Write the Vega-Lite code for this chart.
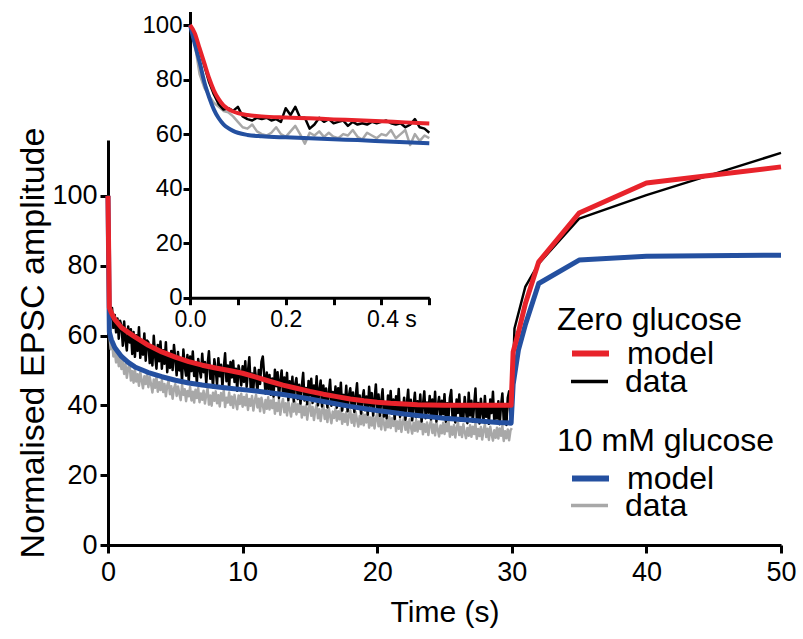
{
"$schema": "https://vega.github.io/schema/vega-lite/v6.json",
"autosize": {"type": "none"},
"padding": {"left": 108, "top": 140, "right": 22, "bottom": 94},
"width": 673,
"height": 405,
"background": "white",
"config": {
 "view": {"stroke": null},
 "axis": {"grid": false, "domainColor": "black", "tickColor": "black", "domainWidth": 3, "tickWidth": 3, "labelColor": "black", "titleColor": "black", "labelFont": "Liberation Sans", "titleFont": "Liberation Sans", "titleFontWeight": "normal", "labelOverlap": false, "labelFlush": false},
 "legend": {"labelFont": "Liberation Sans", "titleFont": "Liberation Sans", "orient": "none", "padding": 0, "titleFontSize": 32, "titleFontWeight": "normal", "titleColor": "black", "titlePadding": 0, "titleLimit": 400, "labelFontSize": 32, "labelColor": "black", "labelOffset": 15, "symbolType": "stroke", "symbolSize": 1369, "symbolOffset": 12, "rowPadding": 0}
},
"datasets": {
 "main": [
{"t":0,"b":100,"g":100},{"t":0.1,"b":69.6,"g":60.2},{"t":0.2,"b":64.6,"g":56.1},{"t":0.3,"b":67.9,"g":58.4},{"t":0.4,"b":62.2,"g":54.0},{"t":0.5,"b":65.9,"g":55.7},{"t":0.6,"b":60.9,"g":52.3},{"t":0.7,"b":64.9,"g":54.9},{"t":0.8,"b":59.1,"g":51.2},{"t":0.9,"b":64.2,"g":53.6},
{"t":1.0,"b":62.7,"g":50.4},{"t":1.1,"b":57.1,"g":53.1},{"t":1.2,"b":64.0,"g":49.0},{"t":1.3,"b":58.6,"g":51.8},{"t":1.4,"b":55.7,"g":47.9},{"t":1.5,"b":62.6,"g":50.6},{"t":1.6,"b":58.0,"g":52.2},{"t":1.7,"b":61.8,"g":47.1},{"t":1.8,"b":54.7,"g":49.8},{"t":1.9,"b":61.0,"g":46.5},
{"t":2.0,"b":53.9,"g":50.2},{"t":2.1,"b":60.1,"g":46.8},{"t":2.2,"b":55.6,"g":48.9},{"t":2.3,"b":62.4,"g":45.6},{"t":2.4,"b":53.6,"g":49.5},{"t":2.5,"b":58.7,"g":47.2},{"t":2.6,"b":54.5,"g":44.9},{"t":2.7,"b":60.6,"g":48.3},{"t":2.8,"b":52.8,"g":46.1},{"t":2.9,"b":58.6,"g":49.0},
{"t":3.0,"b":58.1,"g":45.2},{"t":3.1,"b":52.1,"g":48.1},{"t":3.2,"b":56.8,"g":46.0},{"t":3.3,"b":51.4,"g":43.7},{"t":3.4,"b":59.9,"g":47.4},{"t":3.5,"b":54.1,"g":45.0},{"t":3.6,"b":50.5,"g":48.2},{"t":3.7,"b":57.3,"g":43.9},{"t":3.8,"b":52.6,"g":46.6},{"t":3.9,"b":58.3,"g":44.4},
{"t":4.0,"b":50.5,"g":47.3},{"t":4.1,"b":55.8,"g":43.8},{"t":4.2,"b":51.9,"g":46.1},{"t":4.3,"b":58.1,"g":42.6},{"t":4.4,"b":49.5,"g":45.7},{"t":4.5,"b":54.4,"g":47.0},{"t":4.6,"b":50.7,"g":43.2},{"t":4.7,"b":55.6,"g":45.5},{"t":4.8,"b":50.1,"g":41.9},{"t":4.9,"b":57.3,"g":44.8},
{"t":5.0,"b":53.3,"g":46.1},{"t":5.1,"b":48.6,"g":42.7},{"t":5.2,"b":55.3,"g":45.4},{"t":5.3,"b":50.0,"g":43.3},{"t":5.4,"b":52.8,"g":41.5},{"t":5.5,"b":46.9,"g":45.9},{"t":5.6,"b":56.0,"g":43.0},{"t":5.7,"b":51.2,"g":44.6},{"t":5.8,"b":48.5,"g":41.2},{"t":5.9,"b":54.4,"g":44.1},
{"t":6.0,"b":46.6,"g":42.6},{"t":6.1,"b":54.0,"g":45.3},{"t":6.2,"b":49.8,"g":41.4},{"t":6.3,"b":55.4,"g":43.9},{"t":6.4,"b":48.4,"g":40.8},{"t":6.5,"b":52.3,"g":44.5},{"t":6.6,"b":46.3,"g":42.1},{"t":6.7,"b":53.3,"g":45.0},{"t":6.8,"b":50.6,"g":40.9},{"t":6.9,"b":48.0,"g":43.4},
{"t":7.0,"b":54.8,"g":41.6},{"t":7.1,"b":49.5,"g":44.2},{"t":7.2,"b":52.4,"g":40.5},{"t":7.3,"b":46.3,"g":43.1},{"t":7.4,"b":51.8,"g":44.9},{"t":7.5,"b":55.5,"g":40.2},{"t":7.6,"b":47.6,"g":42.8},{"t":7.7,"b":50.8,"g":39.9},{"t":7.8,"b":45.2,"g":43.6},{"t":7.9,"b":53.2,"g":41.3},
{"t":8.0,"b":50.2,"g":44.0},{"t":8.1,"b":46.0,"g":40.6},{"t":8.2,"b":53.5,"g":42.9},{"t":8.3,"b":48.3,"g":39.7},{"t":8.4,"b":51.6,"g":43.5},{"t":8.5,"b":45.3,"g":41.4},{"t":8.6,"b":50.6,"g":44.3},{"t":8.7,"b":54.9,"g":39.5},{"t":8.8,"b":46.9,"g":42.2},{"t":8.9,"b":51.4,"g":40.8},
{"t":9.0,"b":45.0,"g":43.7},{"t":9.1,"b":52.4,"g":40.1},{"t":9.2,"b":48.0,"g":42.5},{"t":9.3,"b":52.8,"g":39.3},{"t":9.4,"b":46.7,"g":43.0},{"t":9.5,"b":50.5,"g":40.7},{"t":9.6,"b":44.2,"g":38.9},{"t":9.7,"b":51.4,"g":42.8},{"t":9.8,"b":49.2,"g":40.4},{"t":9.9,"b":45.7,"g":43.3},
{"t":10.0,"b":51.2,"g":39.6},{"t":10.1,"b":46.7,"g":42.4},{"t":10.2,"b":52.6,"g":40.0},{"t":10.3,"b":45.3,"g":43.1},{"t":10.4,"b":49.8,"g":38.7},{"t":10.5,"b":53.8,"g":41.8},{"t":10.6,"b":45.0,"g":39.9},{"t":10.7,"b":49.1,"g":42.7},{"t":10.8,"b":44.6,"g":38.5},{"t":10.9,"b":50.8,"g":41.2},
{"t":11.0,"b":47.8,"g":43.0},{"t":11.1,"b":43.9,"g":39.4},{"t":11.2,"b":50.1,"g":41.9},{"t":11.3,"b":46.1,"g":38.3},{"t":11.4,"b":52.5,"g":42.2},{"t":11.5,"b":54.0,"g":40.1},{"t":11.6,"b":48.9,"g":37.9},{"t":11.7,"b":43.4,"g":41.5},{"t":11.8,"b":49.4,"g":39.0},{"t":11.9,"b":44.7,"g":42.3},
{"t":12.0,"b":48.7,"g":38.8},{"t":12.1,"b":43.0,"g":41.4},{"t":12.2,"b":47.7,"g":39.2},{"t":12.3,"b":42.5,"g":42.0},{"t":12.4,"b":50.2,"g":37.6},{"t":12.5,"b":45.5,"g":40.7},{"t":12.6,"b":49.5,"g":38.4},{"t":12.7,"b":42.1,"g":41.6},{"t":12.8,"b":46.9,"g":37.3},{"t":12.9,"b":50.0,"g":40.2},
{"t":13.0,"b":43.1,"g":41.8},{"t":13.1,"b":48.0,"g":38.0},{"t":13.2,"b":43.4,"g":40.6},{"t":13.3,"b":49.3,"g":37.1},{"t":13.4,"b":41.5,"g":41.2},{"t":13.5,"b":46.9,"g":38.9},{"t":13.6,"b":42.8,"g":36.8},{"t":13.7,"b":48.2,"g":40.5},{"t":13.8,"b":41.1,"g":38.2},{"t":13.9,"b":45.9,"g":41.0},
{"t":14.0,"b":47.8,"g":37.4},{"t":14.1,"b":41.8,"g":40.3},{"t":14.2,"b":45.9,"g":38.1},{"t":14.3,"b":40.5,"g":41.1},{"t":14.4,"b":45.5,"g":36.5},{"t":14.5,"b":49.3,"g":39.6},{"t":14.6,"b":41.4,"g":37.2},{"t":14.7,"b":45.0,"g":40.0},{"t":14.8,"b":40.3,"g":35.9},{"t":14.9,"b":47.0,"g":39.1},
{"t":15.0,"b":42.8,"g":40.6},{"t":15.1,"b":47.6,"g":37.0},{"t":15.2,"b":40.7,"g":39.5},{"t":15.3,"b":45.7,"g":35.8},{"t":15.4,"b":41.6,"g":38.7},{"t":15.5,"b":48.3,"g":40.2},{"t":15.6,"b":40.0,"g":36.3},{"t":15.7,"b":44.3,"g":38.9},{"t":15.8,"b":47.1,"g":35.5},{"t":15.9,"b":39.7,"g":38.4},
{"t":16.0,"b":45.7,"g":39.9},{"t":16.1,"b":40.8,"g":36.1},{"t":16.2,"b":44.8,"g":38.6},{"t":16.3,"b":39.4,"g":35.2},{"t":16.4,"b":43.4,"g":39.3},{"t":16.5,"b":47.3,"g":37.0},{"t":16.6,"b":39.9,"g":34.9},{"t":16.7,"b":43.8,"g":38.2},{"t":16.8,"b":40.3,"g":36.4},{"t":16.9,"b":45.4,"g":39.0},
{"t":17.0,"b":39.3,"g":35.6},{"t":17.1,"b":44.9,"g":38.3},{"t":17.2,"b":40.7,"g":36.0},{"t":17.3,"b":46.5,"g":39.1},{"t":17.4,"b":38.5,"g":34.7},{"t":17.5,"b":43.0,"g":37.5},{"t":17.6,"b":40.1,"g":35.3},{"t":17.7,"b":45.6,"g":38.0},{"t":17.8,"b":38.3,"g":34.4},{"t":17.9,"b":42.8,"g":37.2},
{"t":18.0,"b":44.9,"g":38.6},{"t":18.1,"b":39.5,"g":35.0},{"t":18.2,"b":43.7,"g":37.4},{"t":18.3,"b":38.1,"g":34.1},{"t":18.4,"b":42.4,"g":38.1},{"t":18.5,"b":46.3,"g":35.8},{"t":18.6,"b":39.2,"g":33.9},{"t":18.7,"b":42.8,"g":37.0},{"t":18.8,"b":37.6,"g":34.6},{"t":18.9,"b":42.0,"g":37.8},
{"t":19.0,"b":44.3,"g":34.3},{"t":19.1,"b":38.6,"g":37.3},{"t":19.2,"b":42.5,"g":35.1},{"t":19.3,"b":37.3,"g":38.0},{"t":19.4,"b":45.3,"g":33.6},{"t":19.5,"b":39.9,"g":36.5},{"t":19.6,"b":43.5,"g":34.2},{"t":19.7,"b":37.1,"g":37.1},{"t":19.8,"b":41.5,"g":33.4},{"t":19.9,"b":46.0,"g":36.2},
{"t":20.0,"b":38.2,"g":37.6},{"t":20.1,"b":43.1,"g":34.0},{"t":20.2,"b":37.0,"g":36.4},{"t":20.3,"b":41.3,"g":33.1},{"t":20.4,"b":44.6,"g":37.0},{"t":20.5,"b":36.8,"g":34.8},{"t":20.6,"b":40.9,"g":32.9},{"t":20.7,"b":36.3,"g":36.0},{"t":20.8,"b":42.8,"g":33.7},{"t":20.9,"b":38.8,"g":36.8},
{"t":21.0,"b":44.1,"g":33.5},{"t":21.1,"b":37.6,"g":36.3},{"t":21.2,"b":41.7,"g":34.1},{"t":21.3,"b":36.1,"g":37.2},{"t":21.4,"b":42.6,"g":32.6},{"t":21.5,"b":38.6,"g":35.4},{"t":21.6,"b":44.7,"g":33.3},{"t":21.7,"b":36.7,"g":36.1},{"t":21.8,"b":40.7,"g":32.4},{"t":21.9,"b":38.3,"g":35.2},
{"t":22.0,"b":42.2,"g":36.6},{"t":22.1,"b":35.9,"g":33.0},{"t":22.2,"b":40.4,"g":35.3},{"t":22.3,"b":44.5,"g":32.2},{"t":22.4,"b":37.0,"g":36.0},{"t":22.5,"b":41.6,"g":33.8},{"t":22.6,"b":35.7,"g":31.9},{"t":22.7,"b":39.8,"g":35.0},{"t":22.8,"b":43.6,"g":32.7},{"t":22.9,"b":36.6,"g":35.8},
{"t":23.0,"b":41.2,"g":32.5},{"t":23.1,"b":37.4,"g":35.4},{"t":23.2,"b":43.1,"g":33.2},{"t":23.3,"b":35.4,"g":36.2},{"t":23.4,"b":40.2,"g":31.7},{"t":23.5,"b":44.0,"g":34.6},{"t":23.6,"b":36.3,"g":32.4},{"t":23.7,"b":40.8,"g":35.1},{"t":23.8,"b":37.9,"g":31.5},{"t":23.9,"b":42.7,"g":34.3},
{"t":24.0,"b":36.0,"g":35.7},{"t":24.1,"b":41.7,"g":32.1},{"t":24.2,"b":37.3,"g":34.5},{"t":24.3,"b":43.9,"g":31.4},{"t":24.4,"b":35.4,"g":35.2},{"t":24.5,"b":39.9,"g":33.0},{"t":24.6,"b":42.4,"g":31.1},{"t":24.7,"b":36.3,"g":34.2},{"t":24.8,"b":41.3,"g":32.0},{"t":24.9,"b":37.5,"g":35.0},
{"t":25.0,"b":43.2,"g":31.8},{"t":25.1,"b":35.3,"g":34.7},{"t":25.2,"b":40.6,"g":32.6},{"t":25.3,"b":36.7,"g":35.5},{"t":25.4,"b":42.2,"g":31.0},{"t":25.5,"b":44.4,"g":33.9},{"t":25.6,"b":35.9,"g":31.6},{"t":25.7,"b":39.7,"g":34.4},{"t":25.8,"b":35.1,"g":30.8},{"t":25.9,"b":41.7,"g":33.6},
{"t":26.0,"b":37.8,"g":35.1},{"t":26.1,"b":43.1,"g":31.5},{"t":26.2,"b":35.6,"g":33.8},{"t":26.3,"b":40.3,"g":30.9},{"t":26.4,"b":36.3,"g":34.6},{"t":26.5,"b":42.4,"g":32.3},{"t":26.6,"b":38.5,"g":30.6},{"t":26.7,"b":34.9,"g":33.5},{"t":26.8,"b":43.6,"g":31.3},{"t":26.9,"b":37.1,"g":34.3},
{"t":27.0,"b":41.3,"g":31.0},{"t":27.1,"b":35.3,"g":33.9},{"t":27.2,"b":39.9,"g":31.8},{"t":27.3,"b":44.8,"g":34.8},{"t":27.4,"b":35.8,"g":30.4},{"t":27.5,"b":40.7,"g":33.2},{"t":27.6,"b":34.8,"g":31.2},{"t":27.7,"b":41.9,"g":33.8},{"t":27.8,"b":38.0,"g":30.2},{"t":27.9,"b":35.6,"g":33.0},
{"t":28.0,"b":42.7,"g":34.5},{"t":28.1,"b":36.7,"g":30.9},{"t":28.2,"b":40.3,"g":33.3},{"t":28.3,"b":34.7,"g":30.1},{"t":28.4,"b":41.7,"g":33.9},{"t":28.5,"b":37.8,"g":31.7},{"t":28.6,"b":43.9,"g":29.9},{"t":28.7,"b":35.2,"g":32.9},{"t":28.8,"b":39.6,"g":30.7},{"t":28.9,"b":36.2,"g":33.6},
{"t":29.0,"b":41.2,"g":30.5},{"t":29.1,"b":34.6,"g":33.4},{"t":29.2,"b":39.9,"g":31.3},{"t":29.3,"b":43.4,"g":34.2},{"t":29.4,"b":35.6,"g":29.8},{"t":29.5,"b":39.2,"g":32.6},{"t":29.6,"b":34.4,"g":30.6},{"t":29.7,"b":42.2,"g":33.1},{"t":29.8,"b":44.0,"g":30.0},{"t":29.9,"b":36.6,"g":32.8},
{"t":30.0,"b":38.8,"g":33.5},{"t":30.2,"b":62.0},{"t":31,"b":73.9},{"t":32,"b":80.6},{"t":35,"b":93.5},{"t":40,"b":100.2},{"t":50,"b":112.3}
 ],
 "model": [
{"t":0,"r":100,"bl":100},{"t":0.1,"r":68,"bl":61},{"t":0.25,"r":66.5,"bl":58.8},{"t":0.5,"r":64.6,"bl":56.6},{"t":1,"r":62.3,"bl":54},{"t":1.5,"r":60.9,"bl":52.3},{"t":2,"r":59.6,"bl":51},{"t":3,"r":57.2,"bl":49.4},{"t":4,"r":55.3,"bl":48.2},{"t":5,"r":53.8,"bl":47.2},{"t":6,"r":52.5,"bl":46.4},{"t":7,"r":51.5,"bl":45.8},{"t":8,"r":50.7,"bl":45.3},{"t":9,"r":50.0,"bl":44.9},{"t":10,"r":49.2,"bl":44.5},{"t":11,"r":48.1,"bl":44.1},{"t":12,"r":46.9,"bl":43.6},{"t":13,"r":45.8,"bl":43.1},{"t":14,"r":44.9,"bl":42.5},{"t":15,"r":44.0,"bl":41.8},{"t":16,"r":43.2,"bl":41.1},{"t":17,"r":42.5,"bl":40.4},{"t":18,"r":41.8,"bl":39.7},{"t":19,"r":41.3,"bl":39.1},{"t":20,"r":40.9,"bl":38.5},{"t":21,"r":40.6,"bl":38.0},{"t":22,"r":40.4,"bl":37.5},{"t":23,"r":40.2,"bl":37.1},{"t":24,"r":40.1,"bl":36.7},{"t":25,"r":40.0,"bl":36.3},{"t":26,"r":40.0,"bl":36.0},{"t":27,"r":40.0,"bl":35.7},{"t":28,"r":40.0,"bl":35.4},{"t":29,"r":40.0,"bl":35.1},{"t":29.95,"r":40.0,"bl":34.9},{"t":30.1,"r":55.3,"bl":46},{"t":30.5,"r":61,"bl":56},{"t":31,"r":69,"bl":63},{"t":32,"r":81.1,"bl":74.9},{"t":35,"r":95.1,"bl":81.6},{"t":40,"r":103.7,"bl":82.7},{"t":50,"r":108.3,"bl":83.0}
 ],
 "inset": [
{"t":0,"b":100,"g":100},{"t":0.01,"b":97,"g":93},{"t":0.02,"b":91,"g":82},{"t":0.03,"b":85,"g":77},{"t":0.04,"b":79,"g":74},{"t":0.05,"b":74.5,"g":71.5},{"t":0.06,"b":71,"g":70},{"t":0.07,"b":69,"g":68.5},{"t":0.08,"b":69.5,"g":68},{"t":0.09,"b":68.5,"g":66.5},
{"t":0.10,"b":70.0,"g":64.5},{"t":0.11,"b":66.5,"g":62.5},{"t":0.12,"b":65.5,"g":62.0},{"t":0.13,"b":65.0,"g":63.5},{"t":0.14,"b":66.0,"g":61.0},{"t":0.15,"b":65.5,"g":60.0},{"t":0.16,"b":66.0,"g":59.5},{"t":0.17,"b":65.0,"g":60.5},{"t":0.18,"b":65.5,"g":62.5},{"t":0.19,"b":64.5,"g":60.0},
{"t":0.20,"b":69.5,"g":59.0},{"t":0.21,"b":67.0,"g":61.0},{"t":0.22,"b":70.0,"g":63.0},{"t":0.23,"b":66.0,"g":60.0},{"t":0.24,"b":66.0,"g":56.5},{"t":0.25,"b":62.0,"g":60.5},{"t":0.26,"b":63.5,"g":59.5},{"t":0.27,"b":66.0,"g":61.0},{"t":0.28,"b":64.5,"g":59.0},{"t":0.29,"b":65.5,"g":60.5},
{"t":0.30,"b":64.0,"g":59.0},{"t":0.31,"b":64.5,"g":58.5},{"t":0.32,"b":65.0,"g":60.0},{"t":0.33,"b":63.0,"g":59.5},{"t":0.34,"b":64.5,"g":61.5},{"t":0.35,"b":63.5,"g":59.0},{"t":0.36,"b":64.0,"g":58.0},{"t":0.37,"b":63.5,"g":60.5},{"t":0.38,"b":64.5,"g":59.5},{"t":0.39,"b":64.0,"g":58.5},
{"t":0.40,"b":64.5,"g":60.0},{"t":0.41,"b":65.0,"g":59.5},{"t":0.42,"b":64.0,"g":61.5},{"t":0.43,"b":63.5,"g":58.5},{"t":0.44,"b":64.0,"g":60.0},{"t":0.45,"b":62.5,"g":61.5},{"t":0.46,"b":63.5,"g":56.0},{"t":0.47,"b":65.5,"g":60.0},{"t":0.48,"b":62.5,"g":57.5},{"t":0.49,"b":62.0,"g":59.5},{"t":0.50,"b":60.5,"g":58.5}
 ],
 "imodel": [
{"t":0,"r":100,"bl":100},{"t":0.01,"r":97,"bl":93},{"t":0.02,"r":91.5,"bl":86.5},{"t":0.03,"r":86,"bl":79},{"t":0.04,"r":80.5,"bl":73.5},{"t":0.05,"r":76,"bl":69},{"t":0.06,"r":72.8,"bl":65.8},{"t":0.07,"r":70.5,"bl":63.6},{"t":0.08,"r":69.2,"bl":62.2},{"t":0.09,"r":68.3,"bl":61.2},{"t":0.10,"r":67.7,"bl":60.5},{"t":0.12,"r":67.0,"bl":59.7},{"t":0.15,"r":66.5,"bl":59.2},{"t":0.20,"r":66.1,"bl":58.8},{"t":0.25,"r":65.8,"bl":58.5},{"t":0.30,"r":65.4,"bl":58.1},{"t":0.35,"r":65.1,"bl":57.8},{"t":0.40,"r":64.7,"bl":57.4},{"t":0.45,"r":64.3,"bl":57.0},{"t":0.50,"r":63.9,"bl":56.6}
 ]
},
"layer": [
 {
  "encoding": {
   "x": {"field": "t", "type": "quantitative", "scale": {"domain": [0, 50], "nice": false, "zero": false},
    "axis": {"values": [0, 10, 20, 30, 40, 50], "labelFontSize": 27, "tickSize": 8, "labelPadding": 6, "title": "Time (s)", "titleFontSize": 30, "titlePadding": 12}}
  },
  "layer": [
   {"data": {"name": "main"}, "mark": {"type": "line", "strokeWidth": 2.5, "strokeJoin": "round"},
    "encoding": {
     "y": {"field": "g", "type": "quantitative", "scale": {"domain": [0, 116], "nice": false}, "axis": {"values": [0, 20, 40, 60, 80, 100], "labelFontSize": 27, "tickSize": 8, "labelPadding": 3, "title": "Normalised EPSC amplitude", "titleFontSize": 34, "titlePadding": 1}},
     "color": {"datum": "data", "type": "nominal", "scale": {"domain": ["data"], "range": ["#a8a8a8"]},
      "legend": {"title": null, "legendX": 449, "legendY": 345, "symbolStrokeWidth": 3.5}}
    }},
   {"data": {"name": "main"}, "mark": {"type": "line", "strokeWidth": 2.5, "strokeJoin": "round"},
    "encoding": {
     "y": {"field": "b", "type": "quantitative", "scale": {"domain": [0, 116], "nice": false}, "axis": {"values": [0, 20, 40, 60, 80, 100], "labelFontSize": 27, "tickSize": 8, "labelPadding": 3, "title": "Normalised EPSC amplitude", "titleFontSize": 34, "titlePadding": 1}},
     "color": {"datum": "data", "type": "nominal", "scale": {"domain": ["data"], "range": ["#000000"]},
      "legend": {"title": null, "legendX": 449, "legendY": 221, "symbolStrokeWidth": 3.5}}
    }},
   {"data": {"name": "model"}, "mark": {"type": "line", "strokeWidth": 5, "strokeJoin": "round", "strokeCap": "butt"},
    "encoding": {
     "y": {"field": "bl", "type": "quantitative", "scale": {"domain": [0, 116], "nice": false}, "axis": {"values": [0, 20, 40, 60, 80, 100], "labelFontSize": 27, "tickSize": 8, "labelPadding": 3, "title": "Normalised EPSC amplitude", "titleFontSize": 34, "titlePadding": 1}},
     "color": {"datum": "model", "type": "nominal", "scale": {"domain": ["model"], "range": ["#2450a0"]},
      "legend": {"title": "10 mM glucose", "legendX": 449, "legendY": 286, "titlePadding": -1, "symbolStrokeWidth": 6}}
    }},
   {"data": {"name": "model"}, "mark": {"type": "line", "strokeWidth": 5, "strokeJoin": "round", "strokeCap": "butt"},
    "encoding": {
     "y": {"field": "r", "type": "quantitative", "scale": {"domain": [0, 116], "nice": false}, "axis": {"values": [0, 20, 40, 60, 80, 100], "labelFontSize": 27, "tickSize": 8, "labelPadding": 3, "title": "Normalised EPSC amplitude", "titleFontSize": 34, "titlePadding": 1}},
     "color": {"datum": "model", "type": "nominal", "scale": {"domain": ["model"], "range": ["#e8232b"]},
      "legend": {"title": "Zero glucose", "legendX": 449, "legendY": 165, "titlePadding": -5, "symbolStrokeWidth": 6}}
    }}
  ],
  "resolve": {"scale": {"color": "independent"}}
 },
 {
  "encoding": {
   "x": {"field": "t", "type": "quantitative", "scale": {"domain": [0, 0.5], "range": [82, 321.3], "nice": false, "zero": false},
    "axis": {"orient": "bottom", "offset": -247.3, "values": [0, 0.1, 0.2, 0.3, 0.4, 0.5], "labelExpr": "abs(datum.value) < 0.001 ? '0.0' : abs(datum.value - 0.2) < 0.001 ? '0.2' : abs(datum.value - 0.4) < 0.001 ? '0.4 s' : ''", "labelFontSize": 23, "tickSize": 7, "labelPadding": 4, "title": null,
     "labelOffset": {"condition": {"test": "abs(datum.value - 0.4) < 0.001", "value": 10}, "value": 0}}}
  },
  "layer": [
   {"data": {"name": "inset"}, "mark": {"type": "line", "strokeWidth": 2.5, "strokeJoin": "round", "color": "#a8a8a8"},
    "encoding": {"y": {"field": "g", "type": "quantitative", "scale": {"domain": [0, 105], "range": [157.7, -128.6], "nice": false},
     "axis": {"orient": "left", "offset": -82, "values": [0, 20, 40, 60, 80, 100], "labelFontSize": 24, "tickSize": 7, "labelPadding": 1, "title": null}}}},
   {"data": {"name": "inset"}, "mark": {"type": "line", "strokeWidth": 2.5, "strokeJoin": "round", "color": "#000000"},
    "encoding": {"y": {"field": "b", "type": "quantitative", "scale": {"domain": [0, 105], "range": [157.7, -128.6], "nice": false},
     "axis": {"orient": "left", "offset": -82, "values": [0, 20, 40, 60, 80, 100], "labelFontSize": 24, "tickSize": 7, "labelPadding": 1, "title": null}}}},
   {"data": {"name": "imodel"}, "mark": {"type": "line", "strokeWidth": 4, "strokeJoin": "round", "interpolate": "monotone", "color": "#2450a0"},
    "encoding": {"y": {"field": "bl", "type": "quantitative", "scale": {"domain": [0, 105], "range": [157.7, -128.6], "nice": false},
     "axis": {"orient": "left", "offset": -82, "values": [0, 20, 40, 60, 80, 100], "labelFontSize": 24, "tickSize": 7, "labelPadding": 1, "title": null}}}},
   {"data": {"name": "imodel"}, "mark": {"type": "line", "strokeWidth": 4, "strokeJoin": "round", "interpolate": "monotone", "color": "#e8232b"},
    "encoding": {"y": {"field": "r", "type": "quantitative", "scale": {"domain": [0, 105], "range": [157.7, -128.6], "nice": false},
     "axis": {"orient": "left", "offset": -82, "values": [0, 20, 40, 60, 80, 100], "labelFontSize": 24, "tickSize": 7, "labelPadding": 1, "title": null}}}}
  ]
 }
],
"resolve": {"scale": {"x": "independent", "y": "independent"}, "axis": {"x": "independent", "y": "independent"}}
}
